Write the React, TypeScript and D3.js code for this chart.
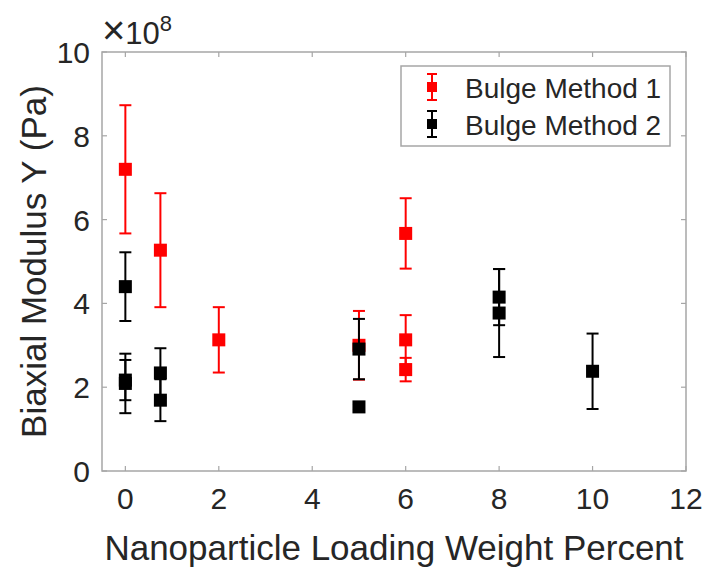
import React from "react";
import * as d3 from "d3";

const xTicks = [0, 2, 4, 6, 8, 10, 12];
const yTicks = [0, 2, 4, 6, 8, 10];

const m1X = [0, 0.75, 2, 5, 6, 6, 6];
const m1Y = [7.2, 5.27, 3.13, 3.0, 5.67, 3.13, 2.42];
const m1Err = [1.53, 1.36, 0.78, 0.82, 0.84, 0.59, 0.28];

const m2X = [0, 0, 0, 0.75, 0.75, 5, 5, 8, 8, 10];
const m2Y = [4.4, 2.09, 2.17, 2.34, 1.69, 2.91, 1.53, 4.15, 3.77, 2.38];
const m2Err = [0.82, 0.71, 0.48, 0.59, 0.5, 0.72, 0.06, 0.67, 1.05, 0.9];

const legendLabels = ["Bulge Method 1", "Bulge Method 2"];
const colors = ["#ff0000", "#000000"];

const W = 707;
const H = 573;
const L = 102, R = 686, T = 52, B = 471;
const FONT = "'Liberation Sans', Arial, Helvetica, sans-serif";

export default function App() {
  const x = d3.scaleLinear().domain([-0.5, 12]).range([L, R]);
  const y = d3.scaleLinear().domain([0, 10]).range([B, T]);
  const ms = 13;
  const cap = 6;

  const series = [
    { xs: m1X, ys: m1Y, es: m1Err, color: colors[0] },
    { xs: m2X, ys: m2Y, es: m2Err, color: colors[1] },
  ];

  const axisColor = "#a6a6a6";
  const textColor = "#262626";

  return (
    <svg width={W} height={H} style={{ position: "absolute", left: 0, top: 0, background: "#fff" }}>
      <rect x={0} y={0} width={W} height={H} fill="#fff" />
      {series.map((s, si) => (
        <g key={si}>
          {s.xs.map((xv, i) => {
            const cx = x(xv);
            const y0 = y(s.ys[i] - s.es[i]);
            const y1 = y(s.ys[i] + s.es[i]);
            const cy = y(s.ys[i]);
            return (
              <g key={i} stroke={s.color} strokeWidth={2} fill={s.color}>
                <line x1={cx} x2={cx} y1={y0} y2={y1} />
                <line x1={cx - cap} x2={cx + cap} y1={y0} y2={y0} />
                <line x1={cx - cap} x2={cx + cap} y1={y1} y2={y1} />
                <rect x={cx - ms / 2} y={cy - ms / 2} width={ms} height={ms} stroke="none" />
              </g>
            );
          })}
        </g>
      ))}
      <rect x={L} y={T} width={R - L} height={B - T} fill="none" stroke={axisColor} strokeWidth={1.5} />
      {xTicks.map((t) => (
        <g key={"xt" + t}>
          <line x1={x(t)} x2={x(t)} y1={B} y2={B - 5} stroke={axisColor} strokeWidth={1.2} />
          <line x1={x(t)} x2={x(t)} y1={T} y2={T + 5} stroke={axisColor} strokeWidth={1.2} />
          <text x={x(t)} y={B + 38} textAnchor="middle" fontSize={30} fontFamily={FONT} fill={textColor}>
            {t}
          </text>
        </g>
      ))}
      {yTicks.map((t) => (
        <g key={"yt" + t}>
          <line x1={L} x2={L + 5} y1={y(t)} y2={y(t)} stroke={axisColor} strokeWidth={1.2} />
          <line x1={R} x2={R - 5} y1={y(t)} y2={y(t)} stroke={axisColor} strokeWidth={1.2} />
          <text x={90} y={y(t) + 11} textAnchor="end" fontSize={30} fontFamily={FONT} fill={textColor}>
            {t}
          </text>
        </g>
      ))}
      <text x={102} y={44} fontSize={31} fontFamily={FONT} fill={textColor}>
        <tspan fontSize={40}>×</tspan>
        <tspan>10</tspan>
        <tspan fontSize={22} dy={-13}>8</tspan>
      </text>
      <text x={(L + R) / 2} y={560} textAnchor="middle" fontSize={35} fontFamily={FONT} fill={textColor}>
        Nanoparticle Loading Weight Percent
      </text>
      <text
        transform={`translate(46, ${(T + B) / 2}) rotate(-90)`}
        textAnchor="middle"
        fontSize={35}
        fontFamily={FONT}
        fill={textColor}
      >
        Biaxial Modulus Y (Pa)
      </text>
      <rect x={401} y={66} width={269} height={80} fill="#fff" stroke={axisColor} strokeWidth={1.5} />
      {legendLabels.map((lab, i) => {
        const ly = 87 + i * 37;
        const lx = 432;
        return (
          <g key={lab}>
            <g stroke={colors[i]} strokeWidth={2}>
              <line x1={lx} x2={lx} y1={ly - 13} y2={ly + 13} />
              <line x1={lx - 5} x2={lx + 5} y1={ly - 13} y2={ly - 13} />
              <line x1={lx - 5} x2={lx + 5} y1={ly + 13} y2={ly + 13} />
            </g>
            <rect x={lx - 5} y={ly - 5} width={10} height={10} fill={colors[i]} />
            <text x={465} y={ly + 11} fontSize={28} fontFamily={FONT} fill={textColor}>
              {lab}
            </text>
          </g>
        );
      })}
    </svg>
  );
}
